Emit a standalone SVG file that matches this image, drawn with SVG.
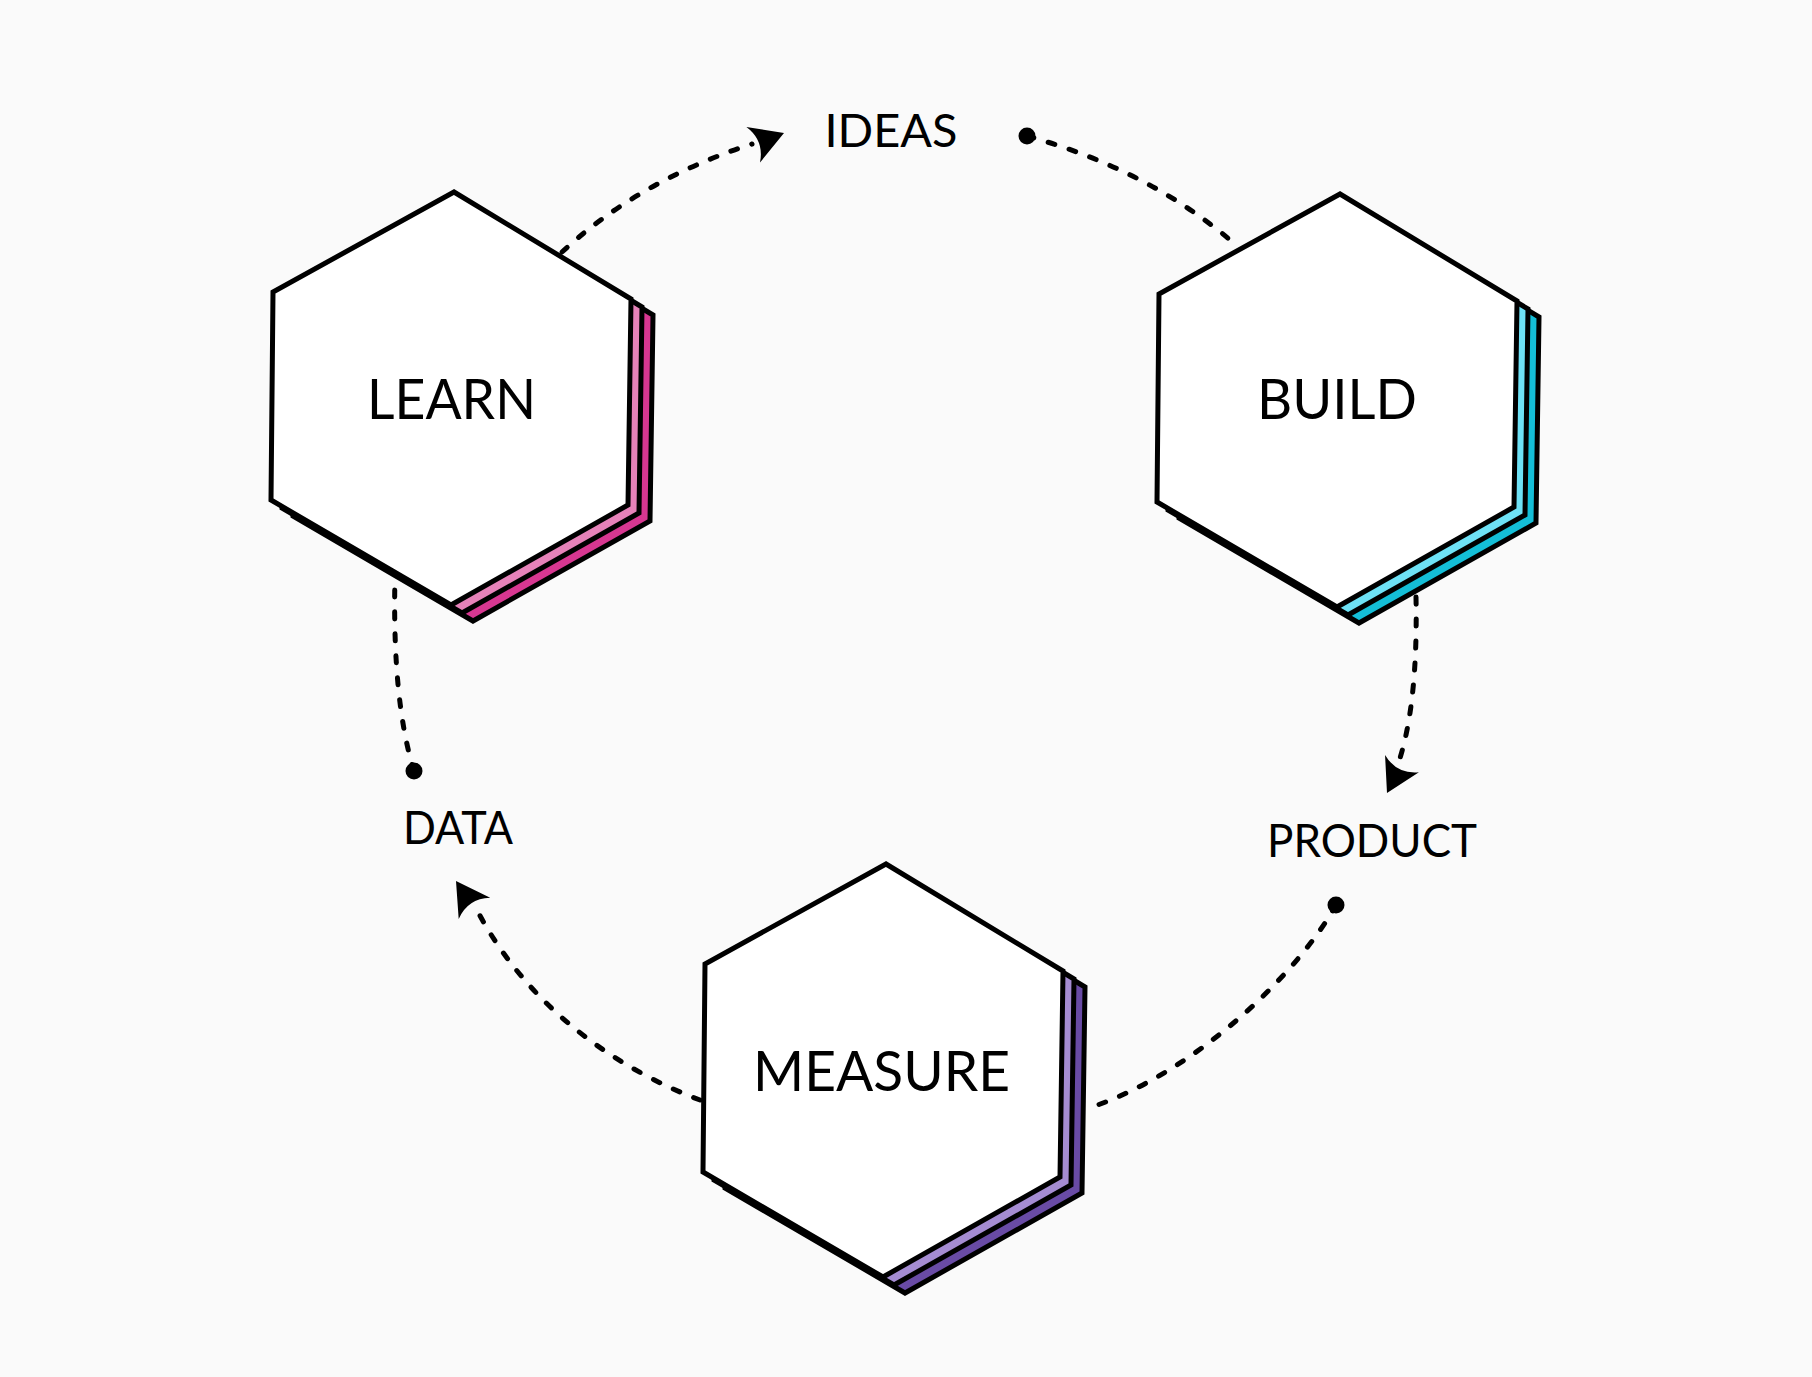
<svg xmlns="http://www.w3.org/2000/svg" xmlns:xlink="http://www.w3.org/1999/xlink" width="1812" height="1377" viewBox="0 0 1812 1377">
<style>
.hex{stroke:#000;stroke-width:5;stroke-linejoin:miter}
.main{fill:#fff}
.lp1{fill:#e682b9}.lp2{fill:#d73791}
.bc1{fill:#6ee1f5}.bc2{fill:#14bed7}
.mp1{fill:#a58cd2}.mp2{fill:#694ba5}
.big{font-family:Lato,"Liberation Sans",sans-serif;font-size:56px;fill:#000}
.lbl{font-family:Lato,"Liberation Sans",sans-serif;font-size:46px;fill:#000}
.con{fill:none;stroke:#000;stroke-width:5;stroke-linecap:round;stroke-dasharray:7 15}
.dot{fill:#000}
.arr{fill:#000}
</style>
<defs>
<polygon id="hex" points="3,-206 -178,-106 -180,102 0,207 177,107 180,-99"/>
<path id="arrowhead" d="M0,0 L-33,-19 Q-21,0 -33,19 Z"/>
</defs>
<rect width="1812" height="1377" fill="#fafafa"/>
<g id="connectors">
<path class="con" d="M562 252 Q640 180 752 144"/>
<use class="arr" href="#arrowhead" transform="translate(784,133) rotate(-21)"/>
<circle class="dot" cx="1027" cy="136" r="8.5"/>
<path class="con" d="M1027 136 Q1150 170 1236 245"/>
<path class="con" d="M1416 597 Q1418 700 1400 758"/>
<use class="arr" href="#arrowhead" transform="translate(1387,793) rotate(117)"/>
<circle class="dot" cx="1336" cy="905" r="8.5"/>
<path class="con" d="M1336 905 C1300 970 1200 1070 1092 1107"/>
<path class="con" d="M700 1100 C620 1070 530 1010 478 912"/>
<use class="arr" href="#arrowhead" transform="translate(456,881) rotate(-124)"/>
<circle class="dot" cx="414" cy="771" r="8.5"/>
<path class="con" d="M414 771 Q392 700 395 576"/>
</g>
<g id="learn">
<use class="hex lp2" href="#hex" transform="translate(473,414)"/>
<use class="hex lp1" href="#hex" transform="translate(462,406)"/>
<use class="hex main" href="#hex" transform="translate(451,398)"/>
<text class="big" x="451.5" y="419" text-anchor="middle" textLength="169" lengthAdjust="spacingAndGlyphs">LEARN</text>
</g>
<g id="build">
<use class="hex bc2" href="#hex" transform="translate(1359,416)"/>
<use class="hex bc1" href="#hex" transform="translate(1348,408)"/>
<use class="hex main" href="#hex" transform="translate(1337,400)"/>
<text class="big" x="1337" y="419" text-anchor="middle" textLength="160" lengthAdjust="spacingAndGlyphs">BUILD</text>
</g>
<g id="measure">
<use class="hex mp2" href="#hex" transform="translate(905,1086)"/>
<use class="hex mp1" href="#hex" transform="translate(894,1078)"/>
<use class="hex main" href="#hex" transform="translate(883,1070)"/>
<text class="big" x="881.5" y="1091" text-anchor="middle" textLength="257" lengthAdjust="spacingAndGlyphs">MEASURE</text>
</g>
<g id="ideas">
<text class="lbl" x="891" y="147" text-anchor="middle" textLength="133" lengthAdjust="spacingAndGlyphs">IDEAS</text>
</g>
<g id="product">
<text class="lbl" x="1372" y="857" text-anchor="middle" textLength="210" lengthAdjust="spacingAndGlyphs">PRODUCT</text>
</g>
<g id="data">
<text class="lbl" x="458" y="844" text-anchor="middle" textLength="110" lengthAdjust="spacingAndGlyphs">DATA</text>
</g>
</svg>
